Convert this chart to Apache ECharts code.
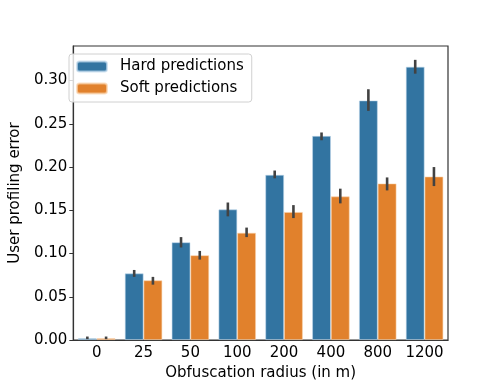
<!DOCTYPE html>
<html>
<head>
<meta charset="utf-8">
<script src="https://cdn.jsdelivr.net/npm/echarts@6/dist/echarts.min.js"></script>
<style>
    html, body { margin: 0; padding: 0; background: #fff; }
    #main { width: 498px; height: 388px; }
</style>
</head>
<body>
<div id="main"></div>
<script>
    // values
    var radii = ['0', '25', '50', '100', '200', '400', '800', '1200'];
    var hardMean = [0.002, 0.077, 0.113, 0.151, 0.191, 0.236, 0.277, 0.316];
    var hardLow = [0.001, 0.073, 0.107, 0.143, 0.187, 0.231, 0.265, 0.308];
    var hardHigh = [0.004, 0.081, 0.119, 0.159, 0.196, 0.240, 0.290, 0.324];
    var softMean = [0.002, 0.069, 0.098, 0.124, 0.148, 0.166, 0.181, 0.189];
    var softLow = [0.001, 0.064, 0.093, 0.119, 0.141, 0.158, 0.173, 0.178];
    var softHigh = [0.004, 0.073, 0.103, 0.130, 0.156, 0.175, 0.188, 0.200];
    var yTicks = [0, 0.05, 0.10, 0.15, 0.20, 0.25, 0.30];

    var BLUE = '#3274a1';
    var ORANGE = '#e1812c';
    var FONT = 'DejaVu Sans';

    function errData(low, high) {
        var out = [];
        for (var i = 0; i < low.length; i++) out.push([i, low[i], high[i]]);
        return out;
    }

    // offset is the bar centre as a fraction of the category band
    function errRender(offset) {
        return function(params, api) {
            var band = api.size([1, 0])[0];
            var lo = api.coord([api.value(0), api.value(1)]);
            var hi = api.coord([api.value(0), api.value(2)]);
            var x = lo[0] + band * offset;
            return {
                type: 'line',
                shape: { x1: x, y1: lo[1], x2: x, y2: hi[1] },
                style: { stroke: '#424242', lineWidth: 2.6 }
            };
        };
    }

    var chart = echarts.init(document.getElementById('main'), null, { renderer: 'canvas' });
    chart.setOption({
        animation: false,
        textStyle: { fontFamily: FONT },
        grid: {
            left: 62, right: 50, top: 46, bottom: 48,
            show: true, borderColor: '#333', borderWidth: 1.2, backgroundColor: 'transparent'
        },
        legend: {
            orient: 'vertical',
            left: 69, top: 54,
            padding: [5, 8, 6, 7],
            itemWidth: 30, itemHeight: 10, itemGap: 7,
            borderColor: '#d0d0d0', borderWidth: 1, borderRadius: 3,
            backgroundColor: 'rgba(255,255,255,0.8)',
            data: ['Hard predictions', 'Soft predictions'],
            textStyle: { fontSize: 15, color: '#000', fontFamily: FONT, lineHeight: 15, padding: [0, 0, 0, 8] }
        },
        xAxis: {
            type: 'category',
            data: radii,
            name: 'Obfuscation radius (in m)',
            nameLocation: 'middle',
            nameGap: 23,
            nameTextStyle: { fontSize: 15, color: '#000', fontFamily: FONT },
            axisLine: { lineStyle: { color: '#333', width: 1.2 } },
            axisTick: { alignWithLabel: true, interval: 0, length: 4, lineStyle: { color: '#333' } },
            axisLabel: { fontSize: 15, color: '#000', margin: 6, interval: 0, fontFamily: FONT }
        },
        yAxis: {
            type: 'value',
            min: 0, max: 0.34, interval: 0.05,
            name: 'User profiling error',
            nameLocation: 'middle',
            nameGap: 45,
            nameTextStyle: { fontSize: 15, color: '#000', fontFamily: FONT },
            splitLine: { show: false },
            axisLine: { show: true, lineStyle: { color: '#333', width: 1.2 } },
            axisTick: { show: true, length: 4, lineStyle: { color: '#333' } },
            axisLabel: {
                fontSize: 15, color: '#000', margin: 6, fontFamily: FONT,
                showMaxLabel: false,
                formatter: function(v) {
                    var hit = yTicks.some(function(t) { return Math.abs(t - v) < 1e-6; });
                    return hit ? v.toFixed(2) : '';
                }
            }
        },
        series: [{
            name: 'Hard predictions',
            type: 'bar',
            data: hardMean,
            barGap: '0%',
            barCategoryGap: '20%',
            itemStyle: { color: BLUE, borderColor: 'rgba(190,215,235,0.7)', borderWidth: 0.8 }
        }, {
            name: 'Soft predictions',
            type: 'bar',
            data: softMean,
            barGap: '0%',
            barCategoryGap: '20%',
            itemStyle: { color: ORANGE, borderColor: 'rgba(250,210,170,0.7)', borderWidth: 0.8 }
        }, {
            type: 'custom',
            data: errData(hardLow, hardHigh),
            renderItem: errRender(-0.2),
            encode: { x: 0, y: [1, 2] },
            z: 5
        }, {
            type: 'custom',
            data: errData(softLow, softHigh),
            renderItem: errRender(0.2),
            encode: { x: 0, y: [1, 2] },
            z: 5
        }]
    });
</script>
</body>
</html>
